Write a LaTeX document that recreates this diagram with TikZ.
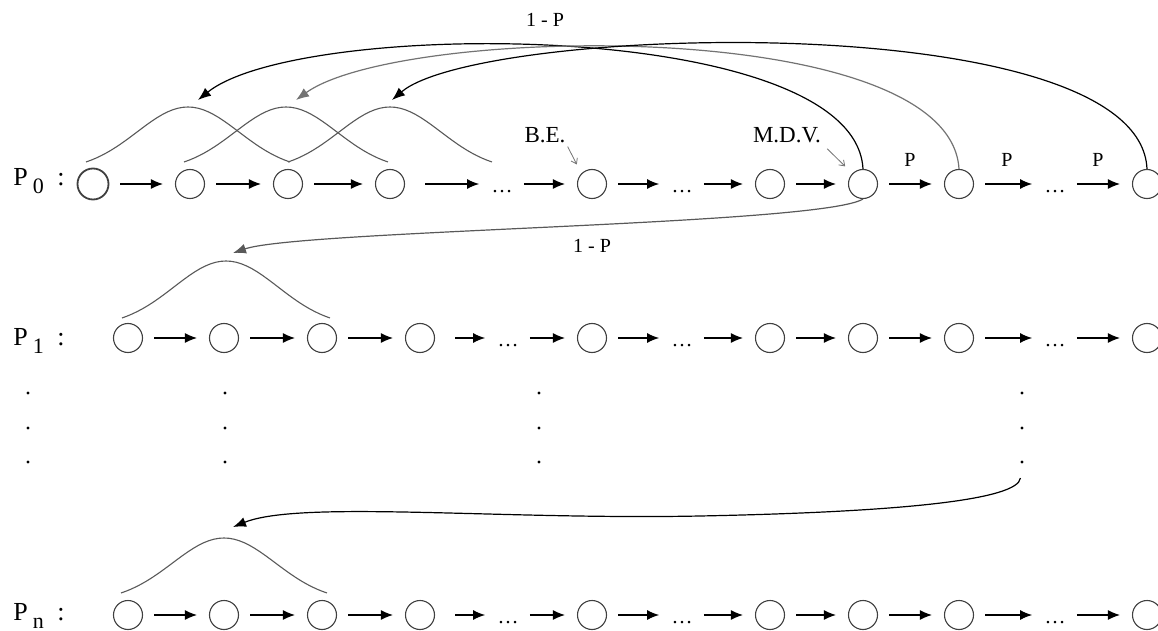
\documentclass[tikz,border=0pt]{standalone}
\usepackage{fontspec}
\setmainfont{Liberation Serif}
\usetikzlibrary{positioning, arrows.meta, calc}

\begin{document}
\begin{tikzpicture}[
  x=0.5pt, y=-0.5pt,
  st/.style={circle, draw=black!75, line width=0.55pt, minimum size=14.5pt, inner sep=0pt},
  gap/.style={inner sep=0pt, font=\fontsize{10.5}{12}\selectfont, text height=8pt, text depth=0pt},
  arr/.style={-{Latex[length=6pt, width=5pt]}, line width=0.6pt, shorten <=5.5pt, shorten >=6pt},
  back/.style={-{Latex[length=6.5pt, width=5pt]}, line width=0.6pt},
  bump/.style={draw=black!65, line width=0.55pt},
  lbl/.style={font=\fontsize{10}{12}\selectfont, inner sep=0pt},
  note/.style={font=\fontsize{11.5}{13}\selectfont, inner sep=0pt},
  ptr/.style={-{Straight Barb[length=2.5pt, width=3.5pt]}, draw=black!55, line width=0.4pt},
  vdot/.style={circle, fill, inner sep=0pt, minimum size=1.7pt},
  row/.style={font=\fontsize{13}{15}\selectfont, inner sep=0pt, anchor=base west}
]
\useasboundingbox (0,0) rectangle (1158,631);

% the three chains P_0, P_1, P_n
\foreach \r/\y/\ly/\lw/\ms/\xa/\xb/\xc/\xd/\xe in {0/184/186/0.9pt/15.5pt/93/190/288/390/502, 1/338/345/0.55pt/14.5pt/128/224/322/420/508, n/615/620/0.55pt/14.5pt/128/224/322/420/508} {
  \node[row] (lab-\r) at (13,\ly) {P\hspace{2.5pt}\raisebox{-4pt}{\fontsize{11}{11}\selectfont\r}};
  \node[row, anchor=base] (col-\r) at (61,\ly) {:};
  \node[st, line width=\lw, minimum size=\ms] (c1-\r) at (\xa,\y) {};
  \node[st] (c2-\r) at (\xb,\y) {};
  \node[st] (c3-\r) at (\xc,\y) {};
  \node[st] (c4-\r) at (\xd,\y) {};
  \node[gap] (d1-\r) at (\xe,\y) {\dots};
  \node[st] (c5-\r) at (592,\y) {};
  \node[gap] (d2-\r) at (682,\y) {\dots};
  \node[st] (c6-\r) at (770,\y) {};
  \node[st] (c7-\r) at (863,\y) {};
  \node[st] (c8-\r) at (959,\y) {};
  \node[gap] (d3-\r) at (1055,\y) {\dots};
  \node[st] (c9-\r) at (1147,\y) {};
  \foreach \a/\b in {c1/c2, c2/c3, c3/c4, d1/c5, c5/d2, d2/c6, c6/c7, c7/c8, c8/d3, d3/c9}
    \draw[arr] (\a-\r) -- (\b-\r);
  \draw[arr, shorten <=10pt] (c4-\r) -- (d1-\r);
}

% vertical dots
\foreach \dx [count=\k] in {28,225,539,1022}
  \foreach \dy [count=\j] in {393,428,462}
    \node[vdot] (v\k-\j) at (\dx,\dy) {};

% bumps
\foreach \c in {188,286,390}
  \draw[bump] plot[domain=-1:1, samples=41] ({\c+102*\x}, {162-55*(exp(-2*\x*\x)-0.1353)/0.8647});
\draw[bump] plot[domain=-1:1, samples=41] ({226+104*\x}, {318-57*(exp(-2*\x*\x)-0.1353)/0.8647});
\draw[bump] plot[domain=-1:1, samples=41] ({224+103*\x}, {593-55*(exp(-2*\x*\x)-0.1353)/0.8647});

\coordinate (t1) at (198,100);
\coordinate (t2) at (296,100);
\coordinate (t3) at (392,100);
\coordinate (t4) at (233,253);
\coordinate (t5) at (233,527);

% labels
\node[lbl] (lt) at (545,20) {1 - P};
\node[lbl] (lb) at (592,246) {1 - P};
\node[lbl] (p1) at (910,160) {P};
\node[lbl] (p2) at (1007,160) {P};
\node[lbl] (p3) at (1098,160) {P};
\node[note] (be) at (545,135) {B.E.};
\node[note] (mdv) at (787,135) {M.D.V.};

\draw[ptr, shorten <=2pt, shorten >=5pt] (be.south east) -- (c5-0.north west);
\draw[ptr, shorten <=4pt, shorten >=5pt] (mdv.south east) -- (c7-0.north west);

% feedback arcs
\draw[back] (c7-0.north) .. controls (855,18) and (300,18) .. (t1);
\draw[back, black!55] (c8-0.north) .. controls (950,15) and (400,25) .. (t2);
\draw[back] (c9-0.north) .. controls (1140,5) and (480,25) .. (t3);
\draw[back, black!65] (c7-0.south) .. controls (820,225) and (300,230) .. (t4);
\draw[back, shorten <=7pt] (v4-3.south) .. controls (1018,500) and (900,512) .. (700,516)
  .. controls (500,520) and (300,500) .. (t5);
\end{tikzpicture}
\end{document}
